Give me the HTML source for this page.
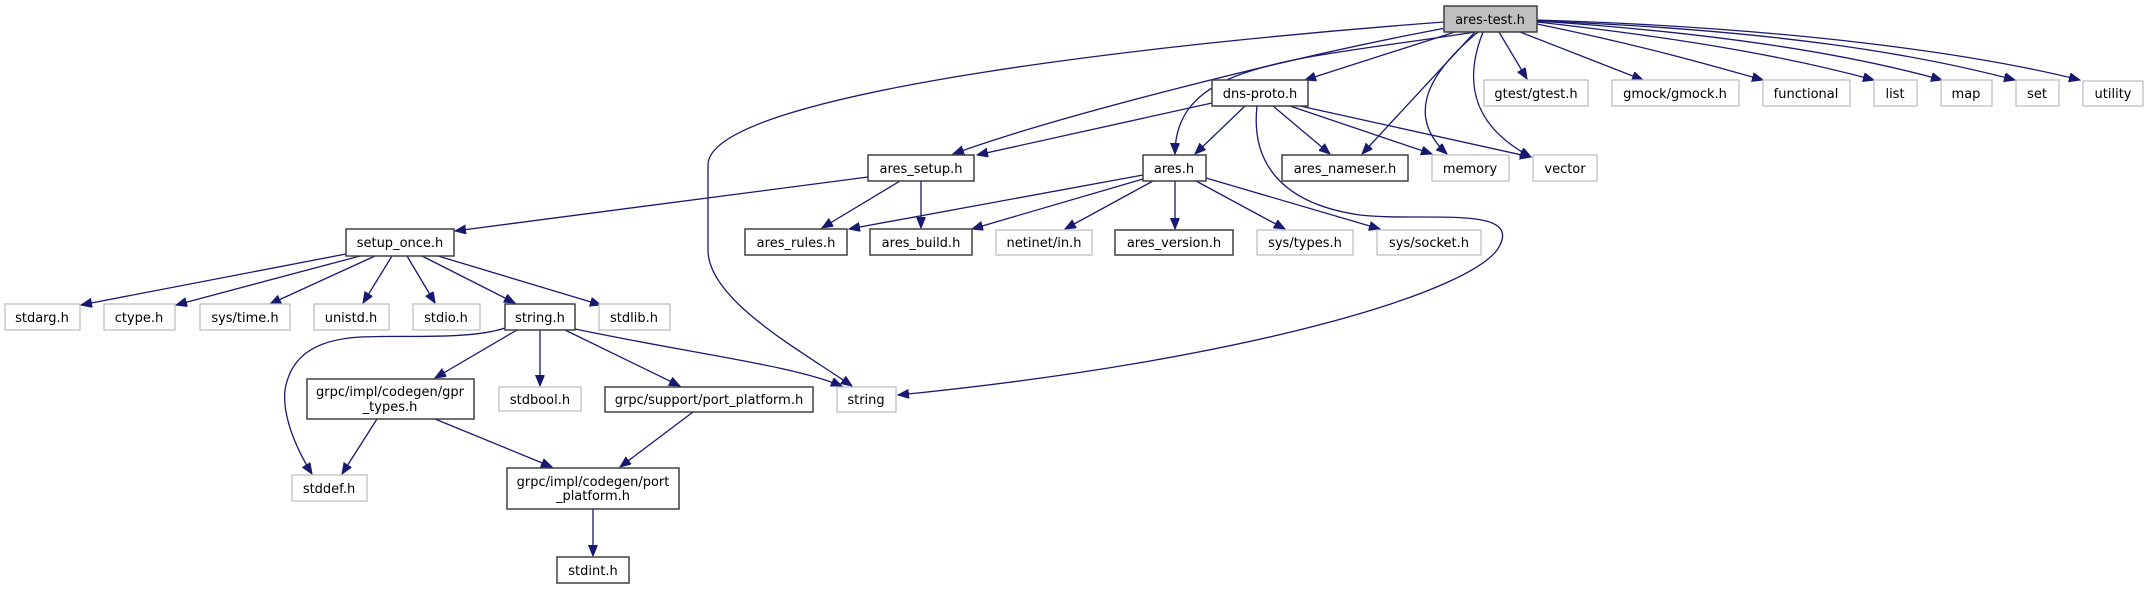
<!DOCTYPE html>
<html><head><meta charset="utf-8"><style>
html,body{margin:0;padding:0;background:#fff;}
svg text{font-family:"DejaVu Sans","Liberation Sans",sans-serif;font-size:13px;fill:#000;text-anchor:middle;}
.g{fill:#fff;stroke:#bfbfbf;stroke-width:1.3;}
.b{fill:#fff;stroke:#404040;stroke-width:1.5;}
.e{fill:none;stroke:#191970;stroke-width:1.3;}
</style></head><body>
<svg width="2149" height="589" viewBox="0 0 2149 589" xmlns="http://www.w3.org/2000/svg">
<defs><marker id="a" markerUnits="userSpaceOnUse" markerWidth="12" markerHeight="10" refX="11" refY="4.5" orient="auto"><path d="M0,0 L11,4.5 L0,9 z" fill="#191970" stroke="#191970"/></marker></defs>
<g class="e" marker-end="url(#a)">
<!-- ares-test -->
<path d="M1444,22 C1200,40 708,90 708,165 L708,250 C708,300 800,350 852,386"/>
<path d="M1446,28 C1300,55 1060,115 953,154"/>
<path d="M1455,32 L1305,80"/>
<path d="M1475,32 C1300,60 1175,60 1175,154"/>
<path d="M1475,32 L1362,154"/>
<path d="M1478,32 C1420,80 1410,120 1447,154"/>
<path d="M1483,32 C1460,90 1480,130 1531,157"/>
<path d="M1499,32 L1527,79"/>
<path d="M1520,32 L1643,80"/>
<path d="M1537,24 C1640,45 1710,65 1763,80"/>
<path d="M1537,22 C1700,40 1800,60 1874,80"/>
<path d="M1537,21 C1750,35 1870,60 1942,80"/>
<path d="M1537,21 C1780,30 1920,55 2015,80"/>
<path d="M1537,20 C1800,28 1980,55 2080,80"/>
<!-- dns-proto -->
<path d="M1212,103 L977,155"/>
<path d="M1245,106 L1195,154"/>
<path d="M1273,106 L1330,154"/>
<path d="M1290,106 L1432,154"/>
<path d="M1300,106 L1531,157"/>
<path d="M1257,106 C1250,170 1290,205 1360,215 C1420,222 1520,205 1500,245 C1480,290 1250,360 898,395"/>
<!-- ares_setup -->
<path d="M868,177 L455,231"/>
<path d="M900,181 L822,228"/>
<path d="M921,181 L921,228"/>
<!-- ares.h -->
<path d="M1143,175 L849,229"/>
<path d="M1143,179 L972,229"/>
<path d="M1153,181 L1065,229"/>
<path d="M1175,181 L1175,229"/>
<path d="M1196,181 L1285,229"/>
<path d="M1206,178 L1380,229"/>
<!-- setup_once -->
<path d="M346,254 L81,305"/>
<path d="M360,256 L176,305"/>
<path d="M375,256 L270,304"/>
<path d="M392,256 L363,303"/>
<path d="M407,256 L435,303"/>
<path d="M422,256 L515,303"/>
<path d="M438,256 L601,305"/>
<!-- string.h -->
<path d="M505,328 C470,340 400,335 360,337 C310,340 290,360 285,390 C282,420 300,455 312,474"/>
<path d="M517,330 L435,378"/>
<path d="M540,330 L540,386"/>
<path d="M565,330 L680,386"/>
<path d="M575,329 C700,355 790,365 842,386"/>
<!-- gpr -->
<path d="M377,419 L342,474"/>
<path d="M435,419 L552,467"/>
<path d="M693,412 L620,467"/>
<path d="M593,509 L593,556"/>
</g>
<g>
<rect x="1444" y="6" width="93" height="26" fill="#bfbfbf" stroke="#404040" stroke-width="1.5"/><text x="1490" y="24">ares-test.h</text>
<rect class="b" x="1212" y="80" width="96" height="26"/><text x="1260" y="98">dns-proto.h</text>
<rect class="g" x="1484" y="80" width="104" height="26"/><text x="1536" y="98">gtest/gtest.h</text>
<rect class="g" x="1612" y="80" width="127" height="26"/><text x="1675" y="98">gmock/gmock.h</text>
<rect class="g" x="1763" y="80" width="87" height="26"/><text x="1806" y="98">functional</text>
<rect class="g" x="1874" y="80" width="43" height="26"/><text x="1895" y="98">list</text>
<rect class="g" x="1941" y="80" width="51" height="26"/><text x="1966" y="98">map</text>
<rect class="g" x="2016" y="80" width="43" height="26"/><text x="2037" y="98">set</text>
<rect class="g" x="2083" y="81" width="60" height="25"/><text x="2113" y="98">utility</text>
<rect class="b" x="868" y="155" width="106" height="26"/><text x="921" y="173">ares_setup.h</text>
<rect class="b" x="1143" y="155" width="63" height="26"/><text x="1174" y="173">ares.h</text>
<rect class="b" x="1282" y="155" width="126" height="26"/><text x="1345" y="173">ares_nameser.h</text>
<rect class="g" x="1432" y="155" width="77" height="26"/><text x="1470" y="173">memory</text>
<rect class="g" x="1533" y="155" width="64" height="26"/><text x="1565" y="173">vector</text>
<rect class="b" x="346" y="229" width="108" height="27"/><text x="400" y="247">setup_once.h</text>
<rect class="b" x="745" y="229" width="102" height="26"/><text x="796" y="247">ares_rules.h</text>
<rect class="b" x="870" y="229" width="102" height="26"/><text x="921" y="247">ares_build.h</text>
<rect class="g" x="996" y="230" width="96" height="25"/><text x="1044" y="247">netinet/in.h</text>
<rect class="b" x="1115" y="230" width="118" height="25"/><text x="1174" y="247">ares_version.h</text>
<rect class="g" x="1257" y="230" width="96" height="25"/><text x="1305" y="247">sys/types.h</text>
<rect class="g" x="1377" y="230" width="104" height="25"/><text x="1429" y="247">sys/socket.h</text>
<rect class="g" x="5" y="304" width="75" height="26"/><text x="42" y="322">stdarg.h</text>
<rect class="g" x="104" y="304" width="71" height="26"/><text x="139" y="322">ctype.h</text>
<rect class="g" x="200" y="304" width="90" height="26"/><text x="245" y="322">sys/time.h</text>
<rect class="g" x="314" y="304" width="75" height="26"/><text x="351" y="322">unistd.h</text>
<rect class="g" x="413" y="304" width="67" height="26"/><text x="446" y="322">stdio.h</text>
<rect class="b" x="505" y="304" width="70" height="26"/><text x="540" y="322">string.h</text>
<rect class="g" x="599" y="304" width="71" height="26"/><text x="634" y="322">stdlib.h</text>
<rect class="b" x="307" y="379" width="167" height="40"/><text x="390" y="396">grpc/impl/codegen/gpr</text><text x="390" y="411">_types.h</text>
<rect class="g" x="499" y="387" width="82" height="24"/><text x="540" y="404">stdbool.h</text>
<rect class="b" x="605" y="387" width="208" height="25"/><text x="709" y="404">grpc/support/port_platform.h</text>
<rect class="g" x="837" y="387" width="59" height="25"/><text x="866" y="404">string</text>
<rect class="g" x="292" y="475" width="75" height="26"/><text x="329" y="493">stddef.h</text>
<rect class="b" x="507" y="468" width="172" height="41"/><text x="593" y="486">grpc/impl/codegen/port</text><text x="593" y="500">_platform.h</text>
<rect class="b" x="557" y="557" width="72" height="26"/><text x="593" y="575">stdint.h</text>
</g>
</svg>
</body></html>
